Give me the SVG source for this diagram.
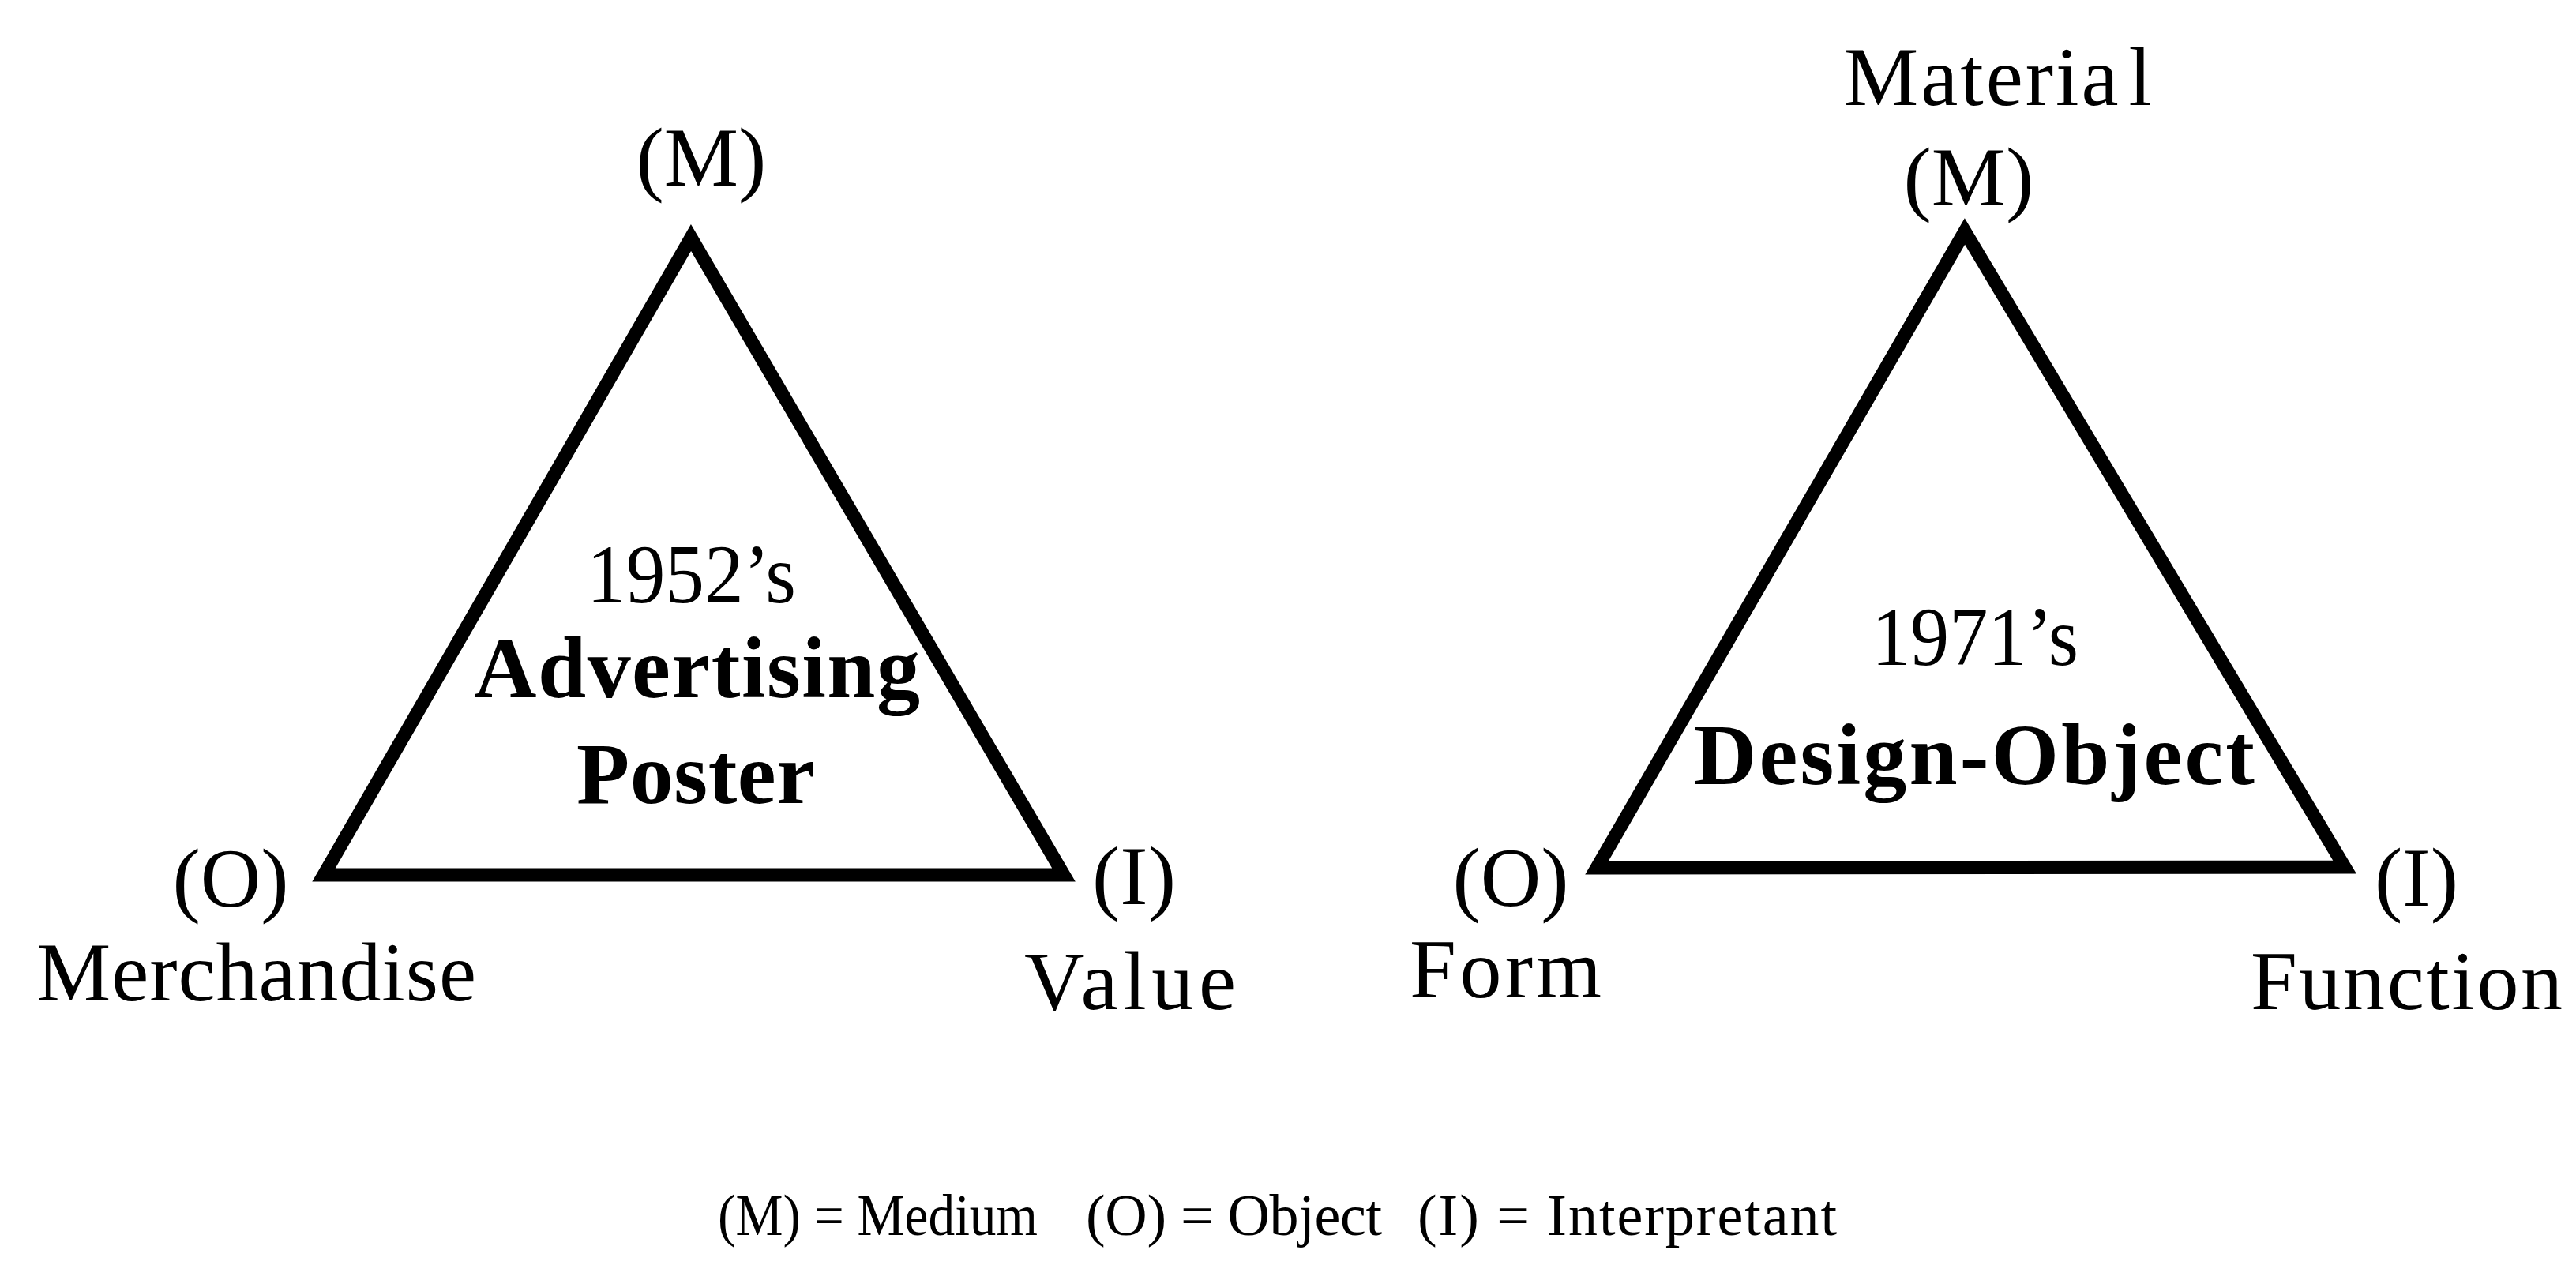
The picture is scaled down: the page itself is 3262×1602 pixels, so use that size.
<svg xmlns="http://www.w3.org/2000/svg" width="3262" height="1602" viewBox="0 0 3262 1602">
<style>
.t{font-family:"Liberation Serif","Times New Roman",serif;fill:#000;}
.lab{font-size:106px;}
.b{font-weight:bold;font-size:110px;}
.leg{font-size:74px;}
.tri{fill:none;stroke:#000;stroke-width:17;stroke-linejoin:miter;stroke-miterlimit:10;}
</style>
<rect width="3262" height="1602" fill="#fff"/>
<g id="connectors">
<polygon id="tri-1952" class="tri" points="875,301 410,1108 1347,1108"/>
<polygon id="tri-1971" class="tri" points="2488,293 2022,1099 2969,1098"/>
</g>
<g id="node-left-M"><text class="t lab" x="888" y="235" text-anchor="middle">(M)</text></g>
<g id="node-left-O"><text class="t lab" x="292" y="1148" text-anchor="middle">(O)</text>
<text class="t lab" x="46" y="1267" textLength="557" lengthAdjust="spacing">Merchandise</text></g>
<g id="node-left-I"><text class="t lab" x="1436" y="1145" text-anchor="middle">(I)</text>
<text class="t lab" x="1297" y="1278" textLength="268" lengthAdjust="spacing">Value</text></g>
<g id="node-left-center">
<text class="t lab" x="743" y="763" textLength="265" lengthAdjust="spacingAndGlyphs">1952’s</text>
<text class="t b" x="600" y="883" textLength="565" lengthAdjust="spacing">Advertising</text>
<text class="t b" x="730" y="1017" textLength="302" lengthAdjust="spacing">Poster</text>
</g>
<g id="node-right-M"><text class="t lab" x="2335" y="133" letter-spacing="3">Materia<tspan dx="10">l</tspan></text>
<text class="t lab" x="2493" y="260" text-anchor="middle">(M)</text></g>
<g id="node-right-O"><text class="t lab" x="1913" y="1147" text-anchor="middle">(O)</text>
<text class="t lab" x="1785" y="1263" textLength="243" lengthAdjust="spacing">Form</text></g>
<g id="node-right-I"><text class="t lab" x="3060" y="1147" text-anchor="middle">(I)</text>
<text class="t lab" x="2850" y="1278" textLength="395" lengthAdjust="spacing">Function</text></g>
<g id="node-right-center">
<text class="t lab" x="2370" y="842" textLength="262" lengthAdjust="spacingAndGlyphs">1971’s</text>
<text class="t b" x="2145" y="993" textLength="710" lengthAdjust="spacing">Design-Object</text>
</g>
<g id="legend">
<text class="t leg" x="909" y="1564" textLength="405" lengthAdjust="spacingAndGlyphs">(M) = Medium</text>
<text class="t leg" x="1375" y="1564" textLength="375" lengthAdjust="spacing">(O) = Object</text>
<text class="t leg" x="1795" y="1564" textLength="531" lengthAdjust="spacing">(I) = Interpretant</text>
</g>
</svg>
